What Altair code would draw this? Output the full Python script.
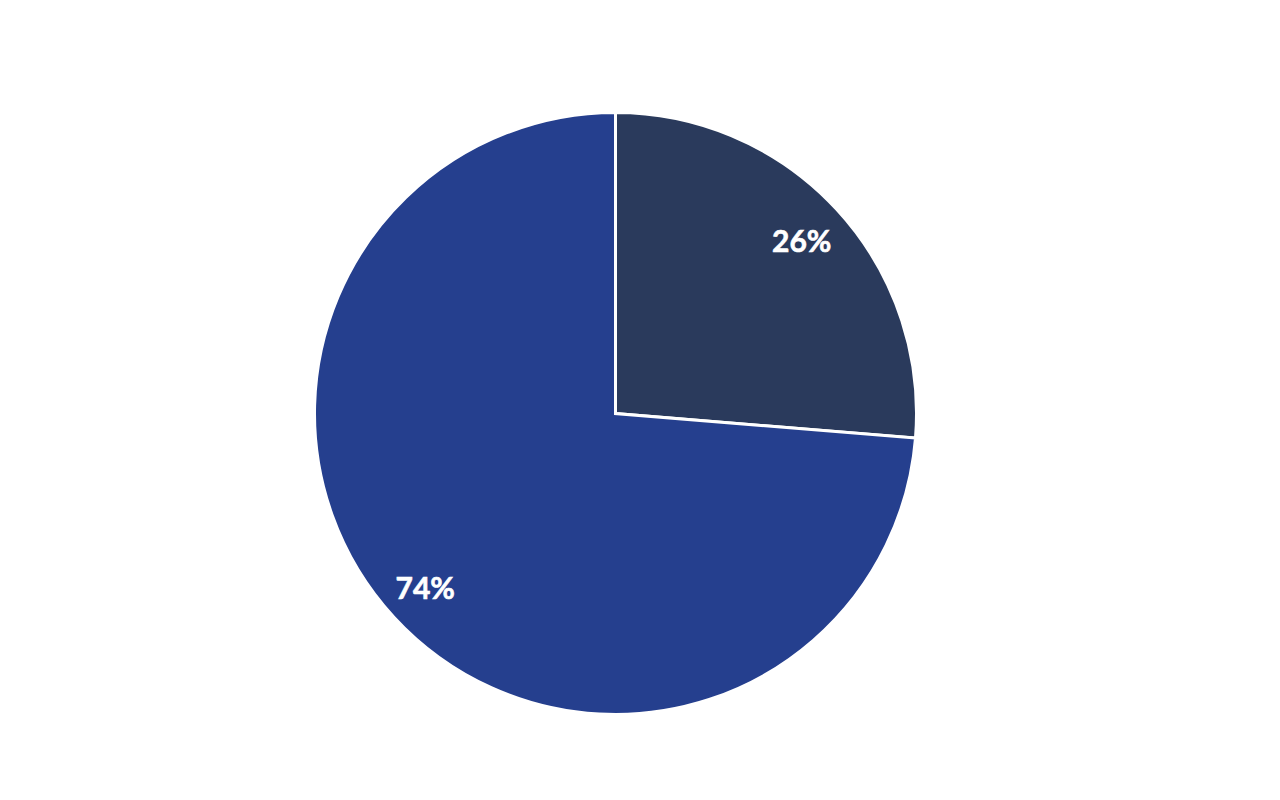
import altair as alt
import pandas as pd

categories = ["A", "B"]
values = [26.3, 73.7]
labels = ["26%", "74%"]
colors = ["#2A3A5C", "#253F8E"]

df = pd.DataFrame({"cat": categories, "value": values, "label": labels, "order": [0, 1]})

base = alt.Chart(df).encode(
    theta=alt.Theta("value:Q", stack=True),
    order=alt.Order("order:Q"),
)

pie = base.mark_arc(radius=301, stroke="white", strokeWidth=3).encode(
    x=alt.value(607.5),
    y=alt.value(405.5),
    color=alt.Color("cat:N", scale=alt.Scale(domain=categories, range=colors), legend=None),
)

text = base.mark_text(
    radius=256, font="Lato", fontSize=30, fontWeight="bold", color="white",
    stroke="white", strokeWidth=0.6, dy=3, dx=-2,
).encode(
    x=alt.value(607.5),
    y=alt.value(405.5),
    text="label:N",
)

chart = (pie + text).properties(
    width=1264, height=784,
    autosize=alt.AutoSizeParams(type="none"),
    padding=0,
).configure_view(stroke=None)

chart.save("out.html", embed_options={"renderer": "svg", "actions": False})
